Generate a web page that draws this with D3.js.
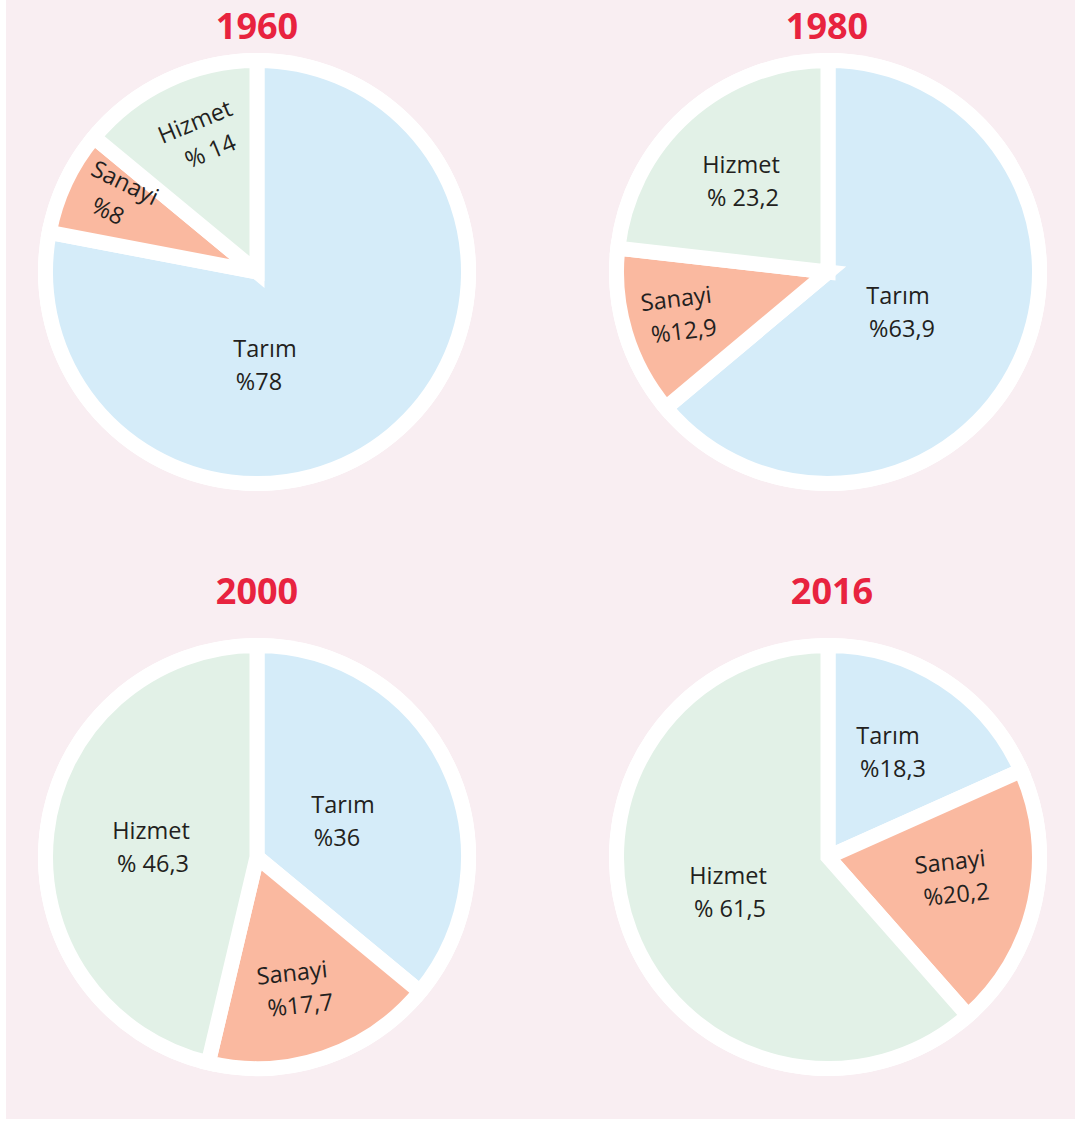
<!DOCTYPE html>
<html>
<head>
<meta charset="utf-8">
<script src="https://cdn.jsdelivr.net/npm/d3@7"></script>
<style>
  html, body { margin: 0; padding: 0; background: #ffffff; }
  svg { display: block; }
</style>
</head>
<body>
<svg id="chart" width="1080" height="1121"></svg>
<script>
// Sector shares of employment by year (%)
const years   = ["1960", "1980", "2000", "2016"];
const sectors = ["Tarım", "Sanayi", "Hizmet"];
const tarim   = [78, 63.9, 36, 18.3];
const sanayi  = [8, 12.9, 17.7, 20.2];
const hizmet  = [14, 23.2, 46.3, 61.5];
const valueLabels = [
  ["%78",   "%8",    "% 14"],
  ["%63,9", "%12,9", "% 23,2"],
  ["%36",   "%17,7", "% 46,3"],
  ["%18,3", "%20,2", "% 61,5"]
];

// Layout
const centers = [[257, 272], [828, 272], [257, 857], [828, 857]];
const titleX  = [257, 827, 257, 832];
const titleY  = [39, 39, 604, 604];
const rOuter = 219;      // white rim
const rSlice = 211.5;    // slice path radius (stroke eats half of the gap width)
const gap = 15;

// label placement per pie / slice: centre of first line relative to pie centre,
// rotation, and horizontal shift of the second line
const labelPos = [
  [{x: 8, y: 77, r: 0, dx: -6},   {x: -132, y: -89, r: 26, dx: -3},  {x: -62, y: -150, r: -22.5, dx: 3}],
  [{x: 70, y: 24, r: 0, dx: 4},   {x: -152, y: 27, r: -7, dx: 4},    {x: -87, y: -107, r: 0, dx: 2}],
  [{x: 86, y: -52, r: 0, dx: -6}, {x: 35, y: 116, r: -6, dx: 5},     {x: -106, y: -26, r: 0, dx: 2}],
  [{x: 60, y: -121, r: 0, dx: 5}, {x: 122, y: 5, r: -6, dx: 3},      {x: -100, y: 19, r: 0, dx: 2}]
];

const colors = d3.scaleOrdinal().domain(sectors).range(["#d5ecf9", "#fab9a0", "#e2f1e7"]);

const svg = d3.select("#chart");

svg.append("rect")
  .attr("x", 6).attr("y", 0)
  .attr("width", 1069).attr("height", 1119)
  .attr("fill", "#f9eef2");

const pie = d3.pie().sort(null).value(d => d.value);
const arc = d3.arc().innerRadius(0).outerRadius(rSlice);

years.forEach((year, i) => {
  const data = sectors.map((s, j) => ({
    sector: s,
    value: [tarim, sanayi, hizmet][j][i],
    label: valueLabels[i][j]
  }));
  const [cx, cy] = centers[i];
  const g = svg.append("g").attr("transform", `translate(${cx},${cy})`);

  g.append("circle").attr("r", rOuter).attr("fill", "#ffffff");

  g.selectAll("path.slice")
    .data(pie(data))
    .join("path")
    .attr("class", "slice")
    .attr("d", arc)
    .attr("fill", d => colors(d.data.sector))
    .attr("stroke", "#ffffff")
    .attr("stroke-width", gap)
    .attr("stroke-linejoin", "miter");

  data.forEach((d, j) => {
    const p = labelPos[i][j];
    const lg = g.append("g")
      .attr("transform", `translate(${p.x},${p.y}) rotate(${p.r})`)
      .attr("font-family", "'Open Sans', 'Noto Sans', sans-serif")
      .attr("font-size", 23.5)
      .attr("fill", "#231f20")
      .attr("text-anchor", "middle");
    lg.append("text").attr("x", 0).attr("y", 8).text(d.sector);
    lg.append("text").attr("x", p.dx).attr("y", 41).text(d.label);
  });

  svg.append("text")
    .attr("x", titleX[i]).attr("y", titleY[i])
    .attr("text-anchor", "middle")
    .attr("font-family", "'Open Sans', 'Noto Sans', sans-serif")
    .attr("font-weight", 700)
    .attr("font-size", 36)
    .attr("fill", "#e8233f")
    .text(year);
});
</script>
</body>
</html>
